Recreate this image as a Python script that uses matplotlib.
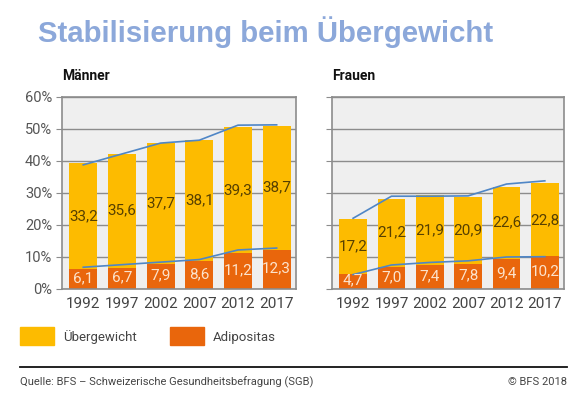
import matplotlib
matplotlib.use('Agg')
import matplotlib.pyplot as plt
import matplotlib.patches as mpatches
import numpy as np

# Daten: BFS Schweizerische Gesundheitsbefragung
jahre = ['1992', '1997', '2002', '2007', '2012', '2017']
maenner_adip = [6.1, 6.7, 7.9, 8.6, 11.2, 12.3]
maenner_ueber = [33.2, 35.6, 37.7, 38.1, 39.3, 38.7]
frauen_adip = [4.7, 7.0, 7.4, 7.8, 9.4, 10.2]
frauen_ueber = [17.2, 21.2, 21.9, 20.9, 22.6, 22.8]
# Trendlinien
maenner_linie_oben = [38.8, 42.2, 45.6, 46.5, 51.2, 51.3]
maenner_linie_unten = [6.8, 7.6, 8.4, 9.2, 12.2, 12.8]
frauen_linie_oben = [22.1, 29.0, 29.0, 29.1, 32.8, 33.8]
frauen_linie_unten = [4.5, 7.5, 8.3, 8.8, 10.0, 10.1]

GELB = '#FDBB00'
ORANGE = '#E9660C'
BLAU = '#4F86C6'
GRID_BG = '#EFEFEF'
W, H = 582, 394

fig = plt.figure(figsize=(W/100, H/100), dpi=100)
fig.patch.set_facecolor('white')

fig.text(38/W, 1-32/H, 'Stabilisierung beim Übergewicht', fontsize=21.2,
         fontweight='bold', color='#8CA8DA', family='Liberation Sans', va='center')


def panel(left_px, width_px, titel, adip, ueber, l_oben, l_unten, ylabels):
    ax = fig.add_axes([left_px/W, 1-289/H, width_px/W, 192/H])
    ax.set_facecolor(GRID_BG)
    x = np.arange(len(jahre))
    ax.bar(x, adip, width=0.72, color=ORANGE, zorder=2)
    ax.bar(x, ueber, bottom=adip, width=0.72, color=GELB, zorder=2)
    ax.plot(x, l_oben, color=BLAU, lw=1.2, zorder=3)
    ax.plot(x, l_unten, color=BLAU, lw=1.2, zorder=3)
    for i in range(len(x)):
        ax.text(x[i], adip[i] + ueber[i]/2, f"{ueber[i]:.1f}".replace('.', ','),
                ha='center', va='center', fontsize=11, color='#574000',
                family='Roboto', zorder=4)
        ax.text(x[i], adip[i]/2 + 0.3, f"{adip[i]:.1f}".replace('.', ','),
                ha='center', va='center', fontsize=11, color='#FCE3CC',
                family='Roboto', zorder=4)
    ax.set_xlim(-0.55, 5.5)
    ax.set_ylim(0, 60)
    ax.set_yticks(range(0, 61, 10))
    ax.yaxis.grid(True, color='#8C8C8C', lw=1.0, zorder=1)
    ax.set_axisbelow(True)
    ax.set_xticks(x)
    ax.set_xticklabels(jahre, fontsize=11, color='#444444', family='Roboto')
    if ylabels:
        ax.set_yticklabels([f"{v}%" for v in range(0, 61, 10)], fontsize=10.5,
                           color='#555555', family='Roboto')
    else:
        ax.set_yticklabels([])
    ax.tick_params(axis='x', length=0, pad=6)
    ax.tick_params(axis='y', length=4, color='#8C8C8C', pad=3)
    for s in ax.spines.values():
        s.set_color('#8C8C8C')
        s.set_linewidth(1.2)
    fig.text(left_px/W, 1-76/H, titel, fontsize=10, fontweight='bold',
             color='#111111', family='Roboto', va='center')
    return ax


panel(62, 234, 'Männer', maenner_adip, maenner_ueber,
      maenner_linie_oben, maenner_linie_unten, True)
panel(332, 232, 'Frauen', frauen_adip, frauen_ueber,
      frauen_linie_oben, frauen_linie_unten, False)

# Legende
fig.patches.append(mpatches.Rectangle((20/W, 1-345/H), 34/W, 18/H,
                   transform=fig.transFigure, color=GELB, figure=fig))
fig.text(63/W, 1-337/H, 'Übergewicht', fontsize=9.5, color='#444444',
         family='Roboto', va='center')
fig.patches.append(mpatches.Rectangle((170/W, 1-345/H), 34/W, 18/H,
                   transform=fig.transFigure, color=ORANGE, figure=fig))
fig.text(213/W, 1-337/H, 'Adipositas', fontsize=9.5, color='#444444',
         family='Roboto', va='center')

# Fusszeile
fig.add_artist(plt.Line2D([20/W, 567/W], [1-367/H, 1-367/H],
               transform=fig.transFigure, color='#111111', lw=1.3))
fig.text(20/W, 1-382/H, 'Quelle: BFS – Schweizerische Gesundheitsbefragung (SGB)',
         fontsize=8, color='#444444', family='Roboto', va='center')
fig.text(567/W, 1-382/H, '© BFS 2018', fontsize=8, color='#444444',
         family='Roboto', va='center', ha='right')

fig.savefig('out.png', dpi=100)
